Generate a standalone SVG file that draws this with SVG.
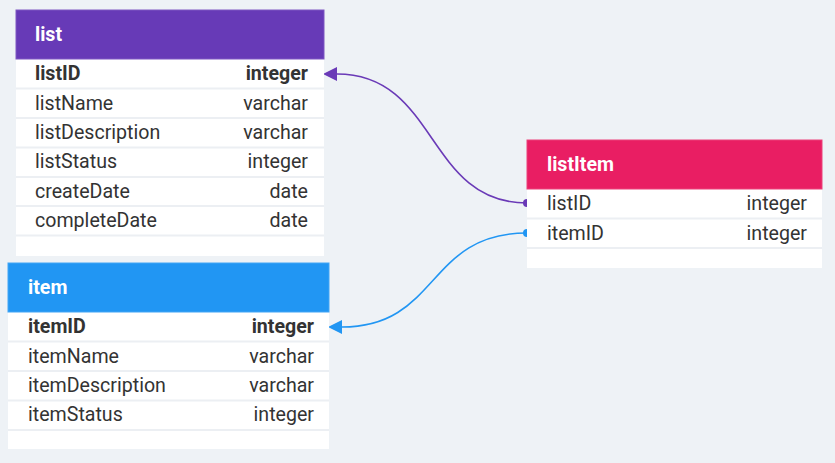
<svg xmlns="http://www.w3.org/2000/svg" width="835" height="463" viewBox="0 0 835 463">
<style>
.bg{fill:#eef2f6}
.body{fill:#ffffff}
.sep{stroke:#eceff3;stroke-width:2}
.ht{font-family:Roboto,"Liberation Sans",sans-serif;font-size:19.6px;font-weight:bold;fill:#ffffff}
.t{font-family:Roboto,"Liberation Sans",sans-serif;font-size:19.6px;fill:#333333}
.pk{font-weight:bold}
.r{text-anchor:end}
.cp{fill:none;stroke:#6a3ab7;stroke-width:1.6}
.cb{fill:none;stroke:#2196f3;stroke-width:1.6}
</style>
<defs>
<marker id="arrP" viewBox="0 0 14 14" markerWidth="14" markerHeight="14" markerUnits="userSpaceOnUse" refX="0" refY="7" orient="auto"><path d="M0,0 L14,7 L0,14 z" fill="#6a3ab7"/></marker>
<marker id="arrB" viewBox="0 0 14 14" markerWidth="14" markerHeight="14" markerUnits="userSpaceOnUse" refX="0" refY="7" orient="auto"><path d="M0,0 L14,7 L0,14 z" fill="#2196f3"/></marker>
<marker id="dotP" viewBox="0 0 10 10" markerWidth="10" markerHeight="10" markerUnits="userSpaceOnUse" refX="5" refY="5"><circle cx="5" cy="5" r="4" fill="#6a3ab7"/></marker>
<marker id="dotB" viewBox="0 0 10 10" markerWidth="10" markerHeight="10" markerUnits="userSpaceOnUse" refX="5" refY="5"><circle cx="5" cy="5" r="4" fill="#2196f3"/></marker>
</defs>
<rect class="bg" x="0" y="0" width="835" height="463"/>
<g id="connectors">
<path class="cp" d="M527,203 C426,203 438,74 337,74" marker-start="url(#dotP)" marker-end="url(#arrP)"/>
<path class="cb" d="M527,233 C426,233 440,327 342,327" marker-start="url(#dotB)" marker-end="url(#arrB)"/>
</g>
<g id="list">
<rect class="body" x="16" y="59" width="308" height="197"/>
<rect x="16" y="10" width="308" height="49" fill="#673ab7" stroke="#7e57c2" stroke-width="1"/>
<text class="ht" x="35" y="41">list</text>
<line class="sep" x1="16" y1="88.5" x2="324" y2="88.5"/>
<line class="sep" x1="16" y1="118" x2="324" y2="118"/>
<line class="sep" x1="16" y1="147.5" x2="324" y2="147.5"/>
<line class="sep" x1="16" y1="177" x2="324" y2="177"/>
<line class="sep" x1="16" y1="206" x2="324" y2="206"/>
<line class="sep" x1="16" y1="235.5" x2="324" y2="235.5"/>
<text class="t pk" x="35" y="80">listID</text><text class="t pk r" x="308" y="80">integer</text>
<text class="t" x="35" y="109.5">listName</text><text class="t r" x="308" y="109.5">varchar</text>
<text class="t" x="35" y="139">listDescription</text><text class="t r" x="308" y="139">varchar</text>
<text class="t" x="35" y="168">listStatus</text><text class="t r" x="308" y="168">integer</text>
<text class="t" x="35" y="197.5">createDate</text><text class="t r" x="308" y="197.5">date</text>
<text class="t" x="35" y="227">completeDate</text><text class="t r" x="308" y="227">date</text>
</g>
<g id="item">
<rect class="body" x="8" y="312" width="321" height="137"/>
<rect x="8" y="263" width="321" height="49" fill="#2196f3" stroke="#42a5f5" stroke-width="1"/>
<text class="ht" x="28" y="294">item</text>
<line class="sep" x1="8" y1="341.5" x2="329" y2="341.5"/>
<line class="sep" x1="8" y1="371" x2="329" y2="371"/>
<line class="sep" x1="8" y1="400.5" x2="329" y2="400.5"/>
<line class="sep" x1="8" y1="430" x2="329" y2="430"/>
<text class="t pk" x="28" y="333">itemID</text><text class="t pk r" x="314" y="333">integer</text>
<text class="t" x="28" y="362.5">itemName</text><text class="t r" x="314" y="362.5">varchar</text>
<text class="t" x="28" y="392">itemDescription</text><text class="t r" x="314" y="392">varchar</text>
<text class="t" x="28" y="421">itemStatus</text><text class="t r" x="314" y="421">integer</text>
</g>
<g id="listItem">
<rect class="body" x="527" y="189" width="295" height="79"/>
<rect x="527" y="140" width="295" height="49" fill="#e91e63" stroke="#ec407a" stroke-width="1"/>
<text class="ht" x="547" y="171">listItem</text>
<line class="sep" x1="527" y1="218.5" x2="822" y2="218.5"/>
<line class="sep" x1="527" y1="248" x2="822" y2="248"/>
<text class="t" x="547" y="210">listID</text><text class="t r" x="807" y="210">integer</text>
<text class="t" x="547" y="239.5">itemID</text><text class="t r" x="807" y="239.5">integer</text>
</g>
</svg>
